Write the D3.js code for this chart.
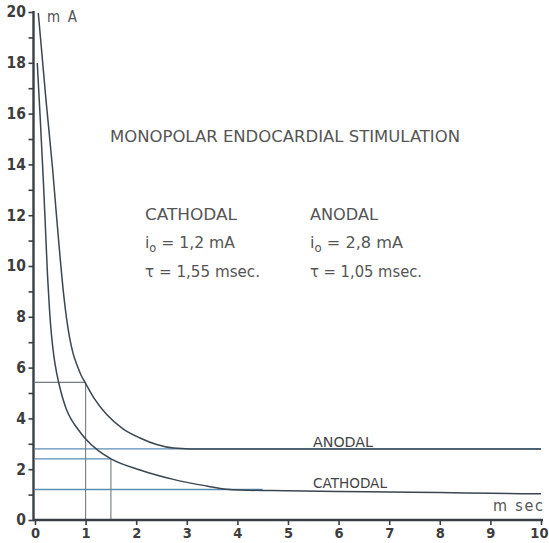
<!DOCTYPE html>
<html>
<head>
<meta charset="utf-8">
<script src="https://cdn.jsdelivr.net/npm/d3@7"></script>
<style>
  html, body { margin: 0; padding: 0; background: #fff; }
  svg { display: block; }
  text { font-family: "DejaVu Sans Condensed", "DejaVu Sans", "Liberation Sans Narrow", sans-serif; }
</style>
</head>
<body>
<svg id="chart" width="549" height="543"></svg>
<script>
// Strength–duration curves, monopolar endocardial stimulation
const timeTicks = [0, 1, 2, 3, 4, 5, 6, 7, 8, 9, 10];          // m sec
const currentTicks = d3.range(0, 21);                             // mA
const currentLabels = [0, 2, 4, 6, 8, 10, 12, 14, 16, 18, 20];

const anodalTime    = [0.065, 0.217, 0.35, 0.435, 0.504, 0.563, 0.623, 0.682, 0.751, 0.830, 0.909, 0.988, 1.166, 1.417, 1.745, 2.075, 2.405, 2.733, 3.06, 4.0, 10.0];
const anodalCurrent = [19.96, 16.54, 13.78, 11.73, 10.16, 8.94, 7.95, 7.20, 6.57, 6.10, 5.71, 5.42, 4.80, 4.15, 3.58, 3.23, 2.97, 2.83, 2.80, 2.80, 2.80];

const cathodalTime    = [0.045, 0.105, 0.164, 0.208, 0.247, 0.287, 0.326, 0.375, 0.435, 0.504, 0.626, 0.711, 0.824, 0.988, 1.251, 1.502, 2.075, 2.733, 3.393, 3.789, 4.05, 5, 6, 7, 8, 9, 10];
const cathodalCurrent = [17.99, 15.75, 13.39, 11.42, 9.65, 8.27, 7.28, 6.42, 5.71, 5.12, 4.33, 3.98, 3.64, 3.22, 2.73, 2.41, 1.97, 1.60, 1.34, 1.21, 1.18, 1.15, 1.12, 1.10, 1.08, 1.05, 1.03];

// rheobase levels i0 [anodal, cathodal] and how far each level line runs
const rheobase = [2.8, 1.2];
const rheobaseEnd = [10, 4.5];
// guide cross at the chronaxie point of each curve [anodal, cathodal]
const guideTime = [1.0, 1.5];
const guideCurrent = [5.42, 2.41];

const svg = d3.select("#chart");
svg.append("rect").attr("width", 549).attr("height", 543).attr("fill", "#fff");

const x = d3.scaleLinear().domain([0, 10]).range([35, 541]);
const y = d3.scaleLinear().domain([0, 20]).range([520, 12]);

const curveColor = "#3b4651";
const levelColor = "#5b8eb3";
const guideColor = "#737a82";

// rheobase levels
svg.selectAll("line.level").data(rheobase).join("line")
  .attr("class", "level")
  .attr("x1", x(0)).attr("x2", (d, i) => x(rheobaseEnd[i]))
  .attr("y1", d => y(d)).attr("y2", d => y(d))
  .attr("stroke", levelColor).attr("stroke-width", 1.4);

// chronaxie guides: horizontal from the axis, vertical down to the axis
svg.selectAll("line.gh").data(guideTime).join("line")
  .attr("class", "gh")
  .attr("x1", x(0)).attr("x2", d => x(d))
  .attr("y1", (d, i) => y(guideCurrent[i])).attr("y2", (d, i) => y(guideCurrent[i]))
  .attr("stroke", (d, i) => i === 1 ? levelColor : guideColor).attr("stroke-width", 1.2);
svg.selectAll("line.gv").data(guideTime).join("line")
  .attr("class", "gv")
  .attr("x1", d => x(d)).attr("x2", d => x(d))
  .attr("y1", y(0)).attr("y2", (d, i) => y(guideCurrent[i]))
  .attr("stroke", guideColor).attr("stroke-width", 1.1);

// curves
const line = d3.line().x(d => x(d[0])).y(d => y(d[1])).curve(d3.curveMonotoneX);
const series = [d3.zip(anodalTime, anodalCurrent), d3.zip(cathodalTime, cathodalCurrent)];
svg.selectAll("path.curve").data(series).join("path")
  .attr("class", "curve")
  .attr("d", line)
  .attr("fill", "none")
  .attr("stroke", curveColor)
  .attr("stroke-width", 1.5);

// axes
const yAxis = d3.axisLeft(y)
  .tickValues(currentTicks)
  .tickSize(5).tickSizeOuter(0).tickPadding(2.5)
  .tickFormat(d => currentLabels.includes(d) ? d : "");
const gy = svg.append("g").attr("transform", "translate(33.5,0)").call(yAxis);

const xAxis = d3.axisBottom(x)
  .tickValues(timeTicks)
  .tickSize(5).tickSizeOuter(0).tickPadding(3.2);
const gx = svg.append("g").attr("transform", `translate(0,${y(0)})`).call(xAxis);

[gy, gx].forEach(g => {
  g.select(".domain").attr("stroke", "#3a3f45").attr("stroke-width", 2.4);
  g.selectAll(".tick line").attr("stroke", "#3a3f45").attr("stroke-width", 1.6);
  g.selectAll(".tick text").attr("fill", "#3d3d3d")
    .attr("font-weight", "bold")
    .style("font-family", "'DejaVu Sans Condensed', 'DejaVu Sans', sans-serif");
});
gy.selectAll(".tick text").attr("font-size", 15.5);
gx.selectAll(".tick text").attr("font-size", 14.5);
gx.selectAll(".tick text").filter(d => d === 10).attr("text-anchor", "end").attr("x", 7);
gx.select(".domain").attr("d", `M${x(0) - 2},0H${x(10) + 2}`);
gy.select(".domain").attr("d", `M0,${y(0) + 1}V${y(20) - 1}`);

// unit labels
svg.append("text").attr("x", 47).attr("y", 21.5).attr("font-size", 15)
  .attr("fill", "#555").attr("textLength", 30).attr("lengthAdjust", "spacing").text("m A");
svg.append("text").attr("x", 493).attr("y", 511).attr("font-size", 16)
  .attr("fill", "#555").attr("textLength", 50).attr("lengthAdjust", "spacing")
  .text("m  sec");

// heading
svg.append("text").attr("x", 110).attr("y", 141.5).attr("font-size", 16.5)
  .attr("fill", "#555").attr("textLength", 350).attr("lengthAdjust", "spacingAndGlyphs")
  .text("MONOPOLAR ENDOCARDIAL STIMULATION");

// parameter block
const blocks = [
  { x: 310, mode: "ANODAL", rheo: "2,8", chron: "1,05", w: [68, 93, 112] },
  { x: 145, mode: "CATHODAL", rheo: "1,2", chron: "1,55", w: [92, 90, 115] }
];
blocks.forEach(b => {
  const g = svg.append("g").attr("fill", "#555").attr("font-size", 16.5);
  g.append("text").attr("x", b.x).attr("y", 220)
    .attr("textLength", b.w[0]).attr("lengthAdjust", "spacingAndGlyphs").text(b.mode);
  const t1 = g.append("text").attr("x", b.x).attr("y", 248)
    .attr("textLength", b.w[1]).attr("lengthAdjust", "spacingAndGlyphs");
  t1.append("tspan").text("i");
  t1.append("tspan").attr("font-size", 12).attr("dy", 4).text("o");
  t1.append("tspan").attr("dy", -4).text(" = " + b.rheo + " mA");
  g.append("text").attr("x", b.x).attr("y", 276.5)
    .attr("textLength", b.w[2]).attr("lengthAdjust", "spacingAndGlyphs")
    .text("τ = " + b.chron + " msec.");
});

// curve labels
svg.append("text").attr("x", 313).attr("y", 446.5).attr("font-size", 13.5)
  .attr("fill", "#444").attr("textLength", 60).attr("lengthAdjust", "spacingAndGlyphs").text("ANODAL");
svg.append("text").attr("x", 313).attr("y", 487.5).attr("font-size", 13.5)
  .attr("fill", "#444").attr("textLength", 74).attr("lengthAdjust", "spacingAndGlyphs").text("CATHODAL");
</script>
</body>
</html>
